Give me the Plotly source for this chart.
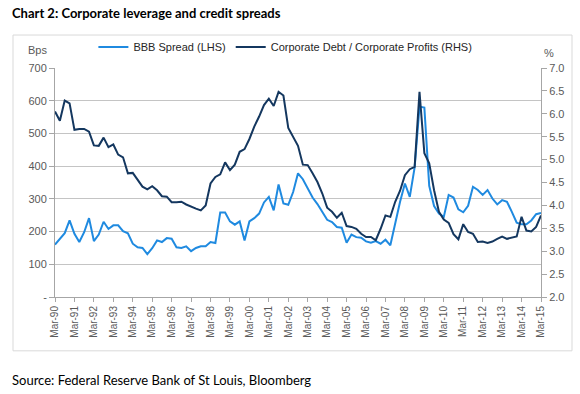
import plotly.graph_objects as go

# ---- data (quarterly, Mar-90 .. Mar-15) ----
months = ["Mar", "Jun", "Sep", "Dec"]
quarters = []
for yr in range(1990, 2016):
    for m in months:
        quarters.append(f"{m}-{yr % 100:02d}")
quarters = quarters[:101]

bbb_spread = [160, 176, 195, 234, 193, 168, 198, 241, 171, 191, 230, 208, 219, 219, 201, 195, 163, 152, 150, 131,
              149, 173, 168, 180, 178, 152,
              150, 155, 140, 150, 155, 155, 168, 165, 258, 258, 231, 221, 231, 173, 231, 241, 255, 289, 306, 265,
              344, 286, 282, 321, 378, 360,
              332, 304, 284, 260, 236, 229, 214, 212, 166, 191, 183, 181, 170, 166, 171, 163, 175, 158, 225, 291,
              347, 306, 396, 582, 579,
              340, 278, 255, 245, 312, 304, 268, 259, 279, 337, 327, 312, 327, 301, 283, 296, 291, 260, 227, 222,
              222, 234, 253, 257]

debt_profits = [6.05, 5.85, 6.29, 6.23, 5.65, 5.67, 5.67, 5.61, 5.31, 5.30, 5.48, 5.27, 5.33, 5.11, 5.05, 4.70,
                4.71, 4.57, 4.41, 4.35, 4.42, 4.33, 4.20, 4.19, 4.07, 4.07,
                4.08, 4.02, 3.97, 3.93, 3.89, 4.00, 4.48, 4.62, 4.68, 4.94, 4.77, 4.89, 5.17, 5.23, 5.45, 5.72,
                5.94, 6.19, 6.33, 6.17, 6.48, 6.40, 5.69, 5.49, 5.30, 4.89,
                4.88, 4.70, 4.51, 4.26, 3.95, 3.86, 3.73, 3.84, 3.55, 3.53, 3.49, 3.38, 3.31, 3.31, 3.24, 3.49,
                3.78, 3.75, 4.08, 4.32, 4.66, 4.79, 4.84, 6.48, 5.14,
                4.92, 4.33, 3.86, 3.69, 3.62, 3.37, 3.26, 3.59, 3.42, 3.38, 3.20, 3.21, 3.18, 3.21, 3.27, 3.32,
                3.27, 3.29, 3.32, 3.75, 3.45, 3.43, 3.53, 3.78]

x_tick_labels = [q for q in quarters if q.startswith("Mar")]
left_ticks = [0, 100, 200, 300, 400, 500, 600, 700]
left_tick_labels = ["-", "100", "200", "300", "400", "500", "600", "700"]
right_ticks = [2.0, 2.5, 3.0, 3.5, 4.0, 4.5, 5.0, 5.5, 6.0, 6.5, 7.0]

LIGHT = "#1F8AE0"
DARK = "#14375F"
TICKC = "#595959"
AXF = "Liberation Sans, Arial, sans-serif"

fig = go.Figure()
fig.add_trace(go.Scatter(x=quarters, y=bbb_spread, mode="lines", name="BBB Spread (LHS)",
                         line=dict(color=LIGHT, width=2), yaxis="y"))
fig.add_trace(go.Scatter(x=quarters, y=debt_profits, mode="lines",
                         name="Corporate Debt / Corporate Profits (RHS)",
                         line=dict(color=DARK, width=2), yaxis="y2"))

fig.update_layout(
    width=580, height=394, autosize=False,
    margin=dict(l=55, r=39, t=68, b=97),
    paper_bgcolor="white", plot_bgcolor="white",
    font=dict(family=AXF, size=11, color=TICKC),
    showlegend=True,
    legend=dict(orientation="h", x=0.079, y=1.092, xanchor="left", yanchor="middle",
                font=dict(family=AXF, size=11, color="#262626"),
                bgcolor="rgba(0,0,0,0)", itemclick=False, tracegroupgap=0),
    xaxis=dict(type="category", range=[0, 100], tickmode="array",
               tickvals=x_tick_labels, ticktext=x_tick_labels, tickangle=-90,
               ticks="outside", ticklen=4, tickcolor="#a6a6a6",
               showline=True, linecolor="#a6a6a6", linewidth=1, showgrid=False,
               tickfont=dict(family=AXF, size=10, color=TICKC), zeroline=False),
    yaxis=dict(range=[0, 700], tickmode="array", tickvals=left_ticks, ticktext=left_tick_labels,
               ticks="outside", ticklen=5, tickcolor="#a6a6a6",
               showline=True, linecolor="#a6a6a6", linewidth=1,
               showgrid=True, gridcolor="#c4c4c4", gridwidth=1, zeroline=False,
               tickfont=dict(family=AXF, size=11, color=TICKC)),
    yaxis2=dict(range=[2, 7], tickmode="array", tickvals=right_ticks,
                ticktext=[f"{v:.1f}" for v in right_ticks],
                overlaying="y", side="right", ticks="outside", ticklen=5, tickcolor="#a6a6a6",
                showline=True, linecolor="#a6a6a6", linewidth=1, showgrid=False, zeroline=False,
                tickfont=dict(family=AXF, size=11, color=TICKC)),
)

# chart border
fig.add_shape(type="rect", xref="paper", yref="paper", x0=-0.0864, x1=1.0638, y0=-0.235, y1=1.144,
              line=dict(color="#d9d9d9", width=1), fillcolor="rgba(0,0,0,0)", layer="below")

fig.add_annotation(text="Bps", xref="paper", yref="paper", x=-0.036, y=1.0786, showarrow=False,
                   xanchor="center", yanchor="middle", font=dict(family=AXF, size=11, color=TICKC))
fig.add_annotation(text="%", xref="paper", yref="paper", x=1.0165, y=1.0655, showarrow=False,
                   xanchor="center", yanchor="middle", font=dict(family=AXF, size=11, color=TICKC))
fig.add_annotation(text="<b>Chart 2: Corporate leverage and credit spreads</b>", xref="paper", yref="paper",
                   x=-0.0926, y=1.240, showarrow=False, xanchor="left", yanchor="middle",
                   font=dict(family="Lato, sans-serif", size=13, color="#000000"))
fig.add_annotation(text="Source: Federal Reserve Bank of St Louis, Bloomberg", xref="paper", yref="paper",
                   x=-0.0926, y=-0.362, showarrow=False, xanchor="left", yanchor="middle",
                   font=dict(family="Lato, sans-serif", size=13, color="#000000"))

fig.write_html("out.html")
